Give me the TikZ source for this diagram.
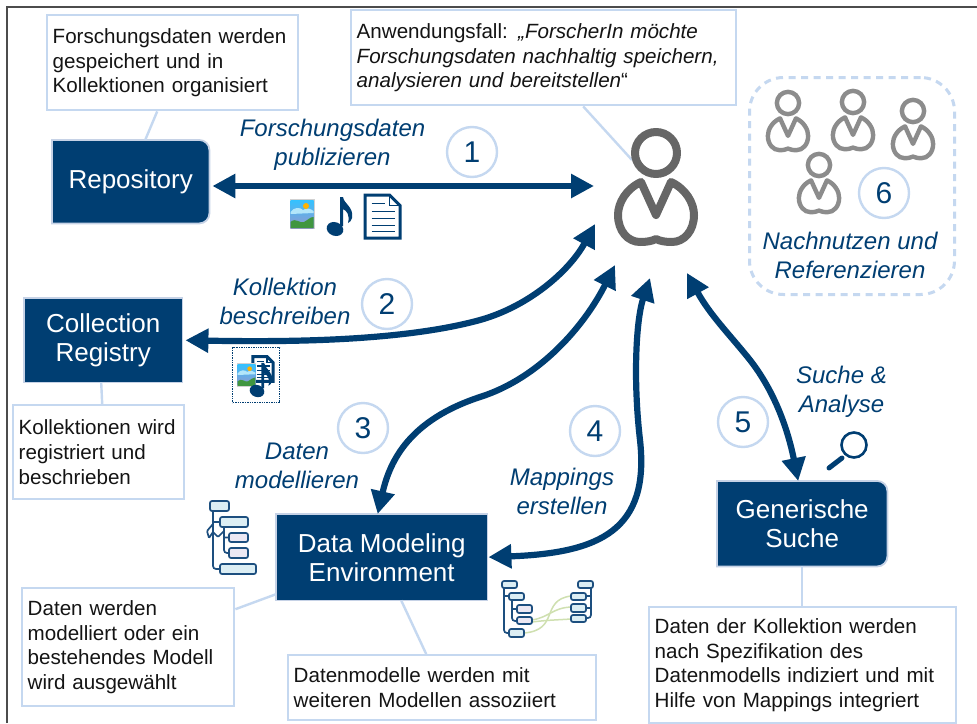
\documentclass[tikz,border=0pt]{standalone}
\usepackage{fontspec}
\setmainfont{Liberation Sans}
\usetikzlibrary{arrows.meta,backgrounds,calc}
\definecolor{navy}{HTML}{003E72}
\definecolor{lightb}{HTML}{C5D8F0}
\definecolor{halo}{HTML}{C6D2E6}
\definecolor{treeline}{HTML}{1D4F7F}
\definecolor{treea}{HTML}{DCEEF4}
\definecolor{treeb}{HTML}{ECE8F3}
\definecolor{mapg}{HTML}{CFE0B0}
\tikzset{
  frameline/.style={draw=black!70,line width=1.6pt},
  notebox/.style 2 args={draw=lightb,line width=2.4pt,fill=white,anchor=north west,
    minimum width=#1,minimum height=#2,text width=#1-11pt,inner sep=0pt,align=left,
    font=\fontsize{20.6}{24.8}\selectfont,text=black!92},
  lead/.style={draw=lightb,line width=2.4pt},
  darkbox/.style 2 args={anchor=north west,minimum width=#1,minimum height=#2,inner sep=0pt,
    align=center,text=white,font=\fontsize{26}{29}\selectfont},
  boxskin/.style={fill=navy,draw=halo,line width=1.8pt},
  steplabel/.style={text=navy,align=center,inner sep=0pt,font=\fontsize{24}{29}\selectfont\itshape},
  numcirc/.style={circle,draw=lightb,line width=2.4pt,fill=white,minimum size=50pt,inner sep=0pt,
    text=navy,font=\fontsize{30}{30}\selectfont},
  arr/.style={draw=navy,line width=6.2pt,{Triangle[length=23pt,width=23pt]}-{Triangle[length=23pt,width=23pt]}},
  tbox/.style={draw=treeline,line width=1.7pt,rounded corners=2pt},
  tline/.style={draw=treeline,line width=1.7pt,rounded corners=3pt},
  person/.pic={
    \draw[line join=round,line cap=round] (0,0) circle[radius=21];
    \draw[line join=round,line cap=round] (0,62) -- (-15,29) .. controls (-30,36) and (-38,50) .. (-38,62)
      .. controls (-38,78) and (-28,89) .. (-16,89) .. controls (-9,89) and (-4,88) .. (0,86)
      .. controls (4,88) and (9,89) .. (16,89) .. controls (28,89) and (38,78) .. (38,62)
      .. controls (38,50) and (30,36) .. (15,29) -- cycle;
  },
  photo/.pic={
    \fill[black!18] (-12.5,-15) rectangle (12.5,15);
    \shade[top color=cyan!70!blue!80,bottom color=blue!35!gray!60] (-11.5,-14) rectangle (11.5,14);
    \fill[white!70!cyan] (-11.5,-2) .. controls (-8,-7) and (-2,-7) .. (1,-4) .. controls (5,-7) and (9,-5) .. (11.5,-3) -- (11.5,-1) -- (-11.5,0) -- cycle;
    \fill[orange!60!yellow] (4,-8) circle[radius=3];
    \fill[green!45!black!75] (-11.5,8) .. controls (-6,3) and (-2,10) .. (2,8) .. controls (6,6) and (8,3) .. (11.5,3) -- (11.5,14) -- (-11.5,14) -- cycle;
  },
  musicnote/.pic={
    \fill[navy,rotate=-20] (0,0) ellipse[x radius=8.5,y radius=6.8];
    \fill[navy] (5,-3) -- (5,-32) -- (8,-32) .. controls (9,-25) and (19,-22) .. (17,-11)
      .. controls (16,-8) and (15,-7) .. (13,-6) .. controls (15,-14) and (12,-18) .. (8,-20) -- (8,-3) -- cycle;
  },
  docicon/.pic={
    \draw[navy,line width=3pt,fill=white,line join=miter] (-17.5,-21.5) -- (7,-21.5) -- (17.5,-11) -- (17.5,21.5) -- (-17.5,21.5) -- cycle;
    \draw[navy,line width=1.6pt] (7,-21.5) -- (7,-11) -- (17.5,-11);
    \draw[navy,line width=1.3pt] (-11,-13) -- (2,-13) (-11,-5) -- (12,-5) (-11,2) -- (12,2) (-11,9) -- (12,9) (-11,15) -- (12,15);
  },
}
\begin{document}
\begin{tikzpicture}[x=1pt,y=-1pt]
\begin{scope}[on background layer]
  \fill[white] (0,0) rectangle (977,723);
\end{scope}
\useasboundingbox (0,0) rectangle (977,723);
\draw[frameline] (7,723) -- (7,7) -- (977,7);

% notes
\node[notebox={251pt}{95pt}] (noteA) at (46,14) {Forschungsdaten werden\\gespeichert und in\\Kollektionen organisiert};
\node[notebox={385pt}{95pt}] (noteB) at (350,9) {Anwendungsfall: \textit{„ForscherIn möchte\\Forschungsdaten nachhaltig speichern,\\analysieren und bereitstellen}“};
\node[notebox={171pt}{94pt}] (noteC) at (12,404) {Kollektionen wird\\registriert und\\beschrieben};
\node[notebox={212pt}{118pt}] (noteD) at (21,587) {Daten werden\\modelliert oder ein\\bestehendes Modell\\wird ausgewählt};
\node[notebox={308pt}{65pt}] (noteE) at (287,654) {Datenmodelle werden mit\\weiteren Modellen assoziiert};
\node[notebox={307pt}{116pt}] (noteF) at (648,606) {Daten der Kollektion werden\\nach Spezifikation des\\Datenmodells indiziert und mit\\Hilfe von Mappings integriert};

% dark boxes
\node[darkbox={157pt}{83pt}] (repo) at (52,140) {Repository};
\node[darkbox={158pt}{84pt}] (coll) at (24,298) {Collection\\Registry};
\node[darkbox={211pt}{86pt}] (dme) at (276,514) {Data Modeling\\Environment};
\node[darkbox={170pt}{85pt}] (gen) at (717,481) {Generische\\Suche};
\begin{scope}[on background layer]
  \path[boxskin] (repo.south west) -- (repo.north west) [rounded corners=10pt] -- (repo.north east) -- (repo.south east) [sharp corners] -- cycle;
  \path[boxskin] (coll.south west) rectangle (coll.north east);
  \path[boxskin] (dme.south west) rectangle (dme.north east);
  \path[boxskin] (gen.south west) -- (gen.north west) [rounded corners=10pt] -- (gen.north east) -- (gen.south east) [sharp corners] -- cycle;
  % leaders
  \draw[lead] ([xshift=-15.5pt]noteA.south) -- ([xshift=14.5pt]repo.north);
  \coordinate (userhead) at (632,160);
  \draw[lead] ([xshift=39.5pt]noteB.south) -- (userhead);
  \draw[lead] ([xshift=3.5pt]noteC.north) -- ([xshift=-2pt]coll.south);
  \draw[lead] ([yshift=38pt]noteD.east) -- ([yshift=-37pt]dme.west);
  \draw[lead] ([xshift=-16pt]noteE.north) -- ([xshift=19.5pt]dme.south);
  \draw[lead] (gen.south) -- (gen.south |- noteF.north);
\end{scope}

% user
\pic[draw=black!60,line width=8pt] at (656,153) {person};
\coordinate (uA) at (594,186);
\coordinate (uB) at (595,224);
\coordinate (uC) at (615,265);
\coordinate (uD) at (650,278);
\coordinate (uE) at (687,273);

% reuse group
\node[draw=lightb,line width=3pt,dash pattern=on 7pt off 5.5pt,rounded corners=34pt,minimum width=205pt,minimum height=217pt,anchor=north west,inner sep=0pt] (group) at (748,76) {};
\pic[draw=black!45,line width=4.4pt,scale=.53] at (788,103) {person};
\pic[draw=black!45,line width=4.4pt,scale=.53] at (853,102) {person};
\pic[draw=black!45,line width=4.4pt,scale=.53] at (913,111) {person};
\pic[draw=black!45,line width=4.4pt,scale=.53] at (819,165) {person};

% arrows
\draw[arr,shorten <=3pt] (repo.east |- uA) -- (uA);
\draw[arr,shorten <=3pt,-{Triangle[length=23pt,width=23pt]},{Triangle[length=23pt,width=23pt]}-{Triangle[length=23pt,width=23pt]}] (coll.east) .. controls (280,342) and (400,342) .. (480,320) .. controls (530,306) and (570,270) .. (uB);
\draw[arr] ([xshift=-4pt]dme.north) .. controls (390,460) and (410,420) .. (480,397) .. controls (540,378) and (585,325) .. (uC);
\draw[arr,shorten <=1pt] (dme.east) .. controls (600,553) and (650,530) .. (640,440) .. controls (633,380) and (636,320) .. (uD);
\draw[arr] (uE) .. controls (710,315) and (730,335) .. (750,360) .. controls (775,392) and (788,430) .. ([xshift=-4pt]gen.north);

% step labels
\node[steplabel] (l1) at (332.5,144.5) {Forschungsdaten\\publizieren};
\node[steplabel] (l2) at (285,301.5) {Kollektion\\beschreiben};
\node[steplabel] (l3) at (297,465.5) {Daten\\modellieren};
\node[steplabel] (l4) at (562,491.5) {Mappings\\erstellen};
\node[steplabel] (l5) at (841.5,391.5) {Suche \&\\Analyse};
\node[steplabel] (l6) at (850,255.5) {Nachnutzen und\\Referenzieren};

% numbers
\node[numcirc] (n1) at (472,152) {1};
\node[numcirc] (n2) at (387,304) {2};
\node[numcirc] (n3) at (363,428) {3};
\node[numcirc] (n4) at (595,431) {4};
\node[numcirc] (n5) at (743,422) {5};
\node[numcirc] (n6) at (884,193) {6};

% data icons
\pic at (302,214) {photo};
\pic at (335,229) {musicnote};
\pic at (382.5,216.5) {docicon};
\node[draw=navy,line width=1.4pt,densely dotted,minimum width=47pt,minimum height=55pt,inner sep=0pt,anchor=north west] (bundle) at (232,347) {};
\pic[scale=.58] at (263,369) {docicon};
\pic[scale=.78] at (246.5,375) {photo};
\pic[scale=.88] at (257,391) {musicnote};

% magnifier
\draw[navy,line width=2.6pt] (854,445) circle[radius=12.5];
\draw[navy,line width=5pt,line cap=round] (842,458) -- (829,468);

% model tree
\draw[tline] (213,511) -- (213,569) -- (220,569);
\draw[tline] (213,522) -- (220,522) (224,527) -- (224,553) -- (229,553) (224,537.5) -- (229,537.5);
\draw[tline,rounded corners=1pt] (213,524) -- (207,531) -- (209,538) -- (213,532) -- (218,537) -- (224,531);
\draw[tbox,fill=treea] (210,501) rectangle (229,511);
\draw[tbox,fill=treea] (220,517) rectangle (248,527);
\draw[tbox,fill=treeb] (229,533) rectangle (248,542);
\draw[tbox,fill=treeb] (229,548) rectangle (248,558);
\draw[tbox,fill=treea] (220,564) rectangle (256,574);

% mapping trees
\draw[mapg,line width=1.5pt] (532,620) .. controls (550,617) and (552,608) .. (571,607);
\draw[mapg,line width=1.5pt] (532,622) .. controls (548,620) and (556,620) .. (571,619);
\draw[mapg,line width=1.5pt] (524,633) .. controls (560,630) and (540,600) .. (571,596);
\draw[tline] (504,588) -- (504,633) -- (509,633) (504,596) -- (509,596) (512,600) -- (512,621) -- (517,621) (512,609) -- (517,609);
\draw[tline] (591,588) -- (591,618) -- (586,618) (591,596) -- (586,596) (591,608) -- (586,608);
\draw[tbox,fill=treea] (502,581) rectangle (517,588);
\draw[tbox,fill=treea] (509,593) rectangle (524,600);
\draw[tbox,fill=treeb] (517,605) rectangle (532,613);
\draw[tbox,fill=treeb] (517,617) rectangle (532,624);
\draw[tbox,fill=treea] (509,629) rectangle (524,637);
\draw[tbox,fill=treea] (578,581) rectangle (593,588);
\draw[tbox,fill=treea] (571,593) rectangle (586,600);
\draw[tbox,fill=treea] (571,604) rectangle (586,612);
\draw[tbox,fill=treea] (571,615) rectangle (586,622);
\end{tikzpicture}
\end{document}
